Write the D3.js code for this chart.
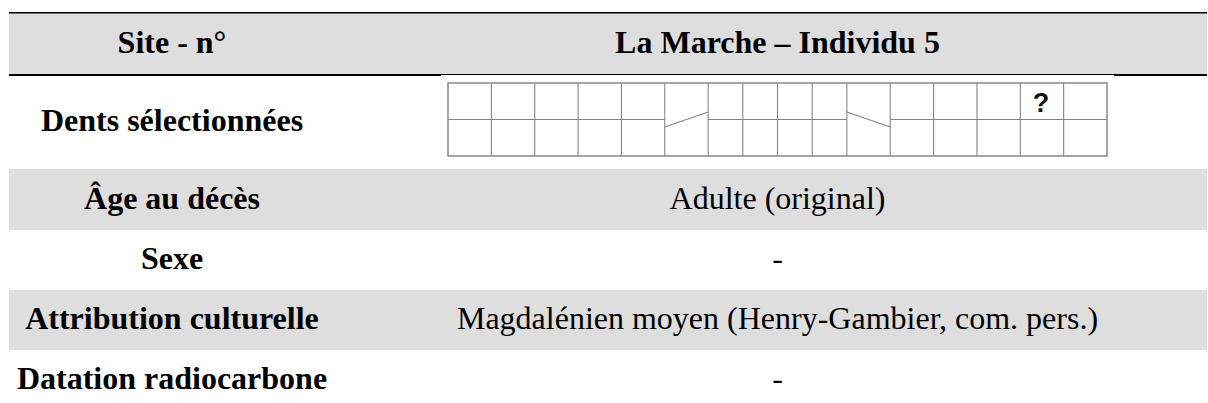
<!DOCTYPE html>
<html>
<head>
<meta charset="utf-8">
<script src="https://cdn.jsdelivr.net/npm/d3@7"></script>
<style>
  html, body { margin: 0; padding: 0; background: #ffffff; }
  svg { display: block; }
</style>
</head>
<body>
<div id="chart"></div>
<script>
// ---------------- data ----------------
const rowLabels = ["Site - n°", "Dents sélectionnées", "Âge au décès", "Sexe", "Attribution culturelle", "Datation radiocarbone"];
const rowValues = ["La Marche – Individu 5", null, "Adulte (original)", "-", "Magdalénien moyen (Henry-Gambier, com. pers.)", "-"];
const rowShaded = [true, false, true, false, true, false];
const rowIsHeader = [true, false, false, false, false, false];

// dental chart: 16 teeth per jaw
const teeth = ["M3", "M2", "M1", "P4", "P3", "C", "I2", "I1", "I1", "I2", "C", "P3", "P4", "M1", "M2", "M3"];
const upperMarks = ["", "", "", "", "", "", "", "", "", "", "", "", "", "", "?", ""];
const lowerMarks = ["", "", "", "", "", "", "", "", "", "", "", "", "", "", "", ""];
// canine split direction (1 = rising to the right, -1 = falling to the right)
const canineSplit = { 5: 1, 10: -1 };

// ---------------- layout ----------------
const W = 1208, H = 403;
const tableLeft = 9, tableRight = 1207;
const rowEdges = [13, 74, 169, 230, 290, 350, 410];
const leftCenter = 172, rightCenter = 777.5;
const gridX0 = 448, gridX1 = 1107, gridY0 = 83, gridY1 = 156;

const svg = d3.select("#chart").append("svg")
  .attr("width", W).attr("height", H)
  .attr("viewBox", `0 0 ${W} ${H}`);

// row backgrounds
const rows = d3.range(rowLabels.length);
svg.append("g").selectAll("rect")
  .data(rows.filter(i => rowShaded[i]))
  .join("rect")
  .attr("x", tableLeft)
  .attr("y", i => rowEdges[i])
  .attr("width", tableRight - tableLeft)
  .attr("height", i => rowEdges[i + 1] - rowEdges[i])
  .attr("fill", "#dedede");

// top rule
svg.append("line")
  .attr("x1", tableLeft).attr("x2", tableRight)
  .attr("y1", 12.75).attr("y2", 12.75)
  .attr("stroke", "#000").attr("stroke-width", 1.5);

// rule below header (thick at ends, thin in the middle)
svg.append("line").attr("x1", tableLeft).attr("x2", 441).attr("y1", 75).attr("y2", 75)
  .attr("stroke", "#000").attr("stroke-width", 2);
svg.append("line").attr("x1", 441).attr("x2", 1114).attr("y1", 74.5).attr("y2", 74.5)
  .attr("stroke", "#000").attr("stroke-width", 1);
svg.append("line").attr("x1", 1114).attr("x2", tableRight).attr("y1", 75).attr("y2", 75)
  .attr("stroke", "#000").attr("stroke-width", 2);

// texts
const textG = svg.append("g");
rows.forEach(i => {
  const base = (rowEdges[i] + rowEdges[i + 1]) / 2 + 9;
  textG.append("text")
    .attr("x", leftCenter).attr("y", base)
    .attr("text-anchor", "middle")
    .attr("font-family", "'Liberation Serif', 'Times New Roman', serif")
    .attr("font-size", 32)
    .attr("font-weight", "bold")
    .attr("fill", "#000")
    .text(rowLabels[i]);
  if (rowValues[i] !== null) {
    textG.append("text")
      .attr("x", rightCenter).attr("y", base)
      .attr("text-anchor", "middle")
      .attr("font-family", "'Liberation Serif', 'Times New Roman', serif")
      .attr("font-size", 32)
      .attr("font-weight", rowIsHeader[i] ? "bold" : "normal")
      .attr("fill", "#000")
      .text(rowValues[i]);
  }
});

// ---------------- dental chart ----------------
const unitOf = t => (t[0] === "I" ? 0.8 : 1);
const cum = [0];
teeth.forEach((t, i) => cum.push(cum[i] + unitOf(t)));
const xs = d3.scaleLinear().domain([0, cum[cum.length - 1]]).range([gridX0, gridX1]);
const ys = d3.scaleLinear().domain([0, 2]).range([gridY0, gridY1]);

const dg = svg.append("g")
  .attr("stroke", "#858585")
  .attr("stroke-width", 1.1)
  .attr("fill", "none");

dg.selectAll("line.v")
  .data(cum.slice(1, -1))
  .join("line")
  .attr("class", "v")
  .attr("x1", d => xs(d)).attr("x2", d => xs(d))
  .attr("y1", ys(0)).attr("y2", ys(2));

dg.selectAll("line.m")
  .data(teeth.map((t, i) => i))
  .join("line")
  .attr("class", "m")
  .attr("x1", i => xs(cum[i])).attr("x2", i => xs(cum[i + 1]))
  .attr("y1", i => canineSplit[i] ? ys(1) + 7.5 * canineSplit[i] : ys(1))
  .attr("y2", i => canineSplit[i] ? ys(1) - 7.5 * canineSplit[i] : ys(1));

dg.append("rect")
  .attr("x", xs(0)).attr("y", ys(0))
  .attr("width", xs(cum[cum.length - 1]) - xs(0))
  .attr("height", ys(2) - ys(0))
  .attr("stroke", "#8f8f8f")
  .attr("stroke-width", 1.6);

// marks
const markG = svg.append("g")
  .attr("font-family", "'Liberation Sans', Arial, sans-serif")
  .attr("font-size", 27)
  .attr("font-weight", "bold")
  .attr("text-anchor", "middle")
  .attr("fill", "#111");
markG.selectAll("text.up")
  .data(upperMarks.map((m, i) => ({ m, i })).filter(d => d.m))
  .join("text")
  .attr("class", "up")
  .attr("x", d => (xs(cum[d.i]) + xs(cum[d.i + 1])) / 2 - 1)
  .attr("y", ys(0.5) + 10.5)
  .text(d => d.m);
markG.selectAll("text.lo")
  .data(lowerMarks.map((m, i) => ({ m, i })).filter(d => d.m))
  .join("text")
  .attr("class", "lo")
  .attr("x", d => (xs(cum[d.i]) + xs(cum[d.i + 1])) / 2 - 1)
  .attr("y", ys(1.5) + 10.5)
  .text(d => d.m);
</script>
</body>
</html>
